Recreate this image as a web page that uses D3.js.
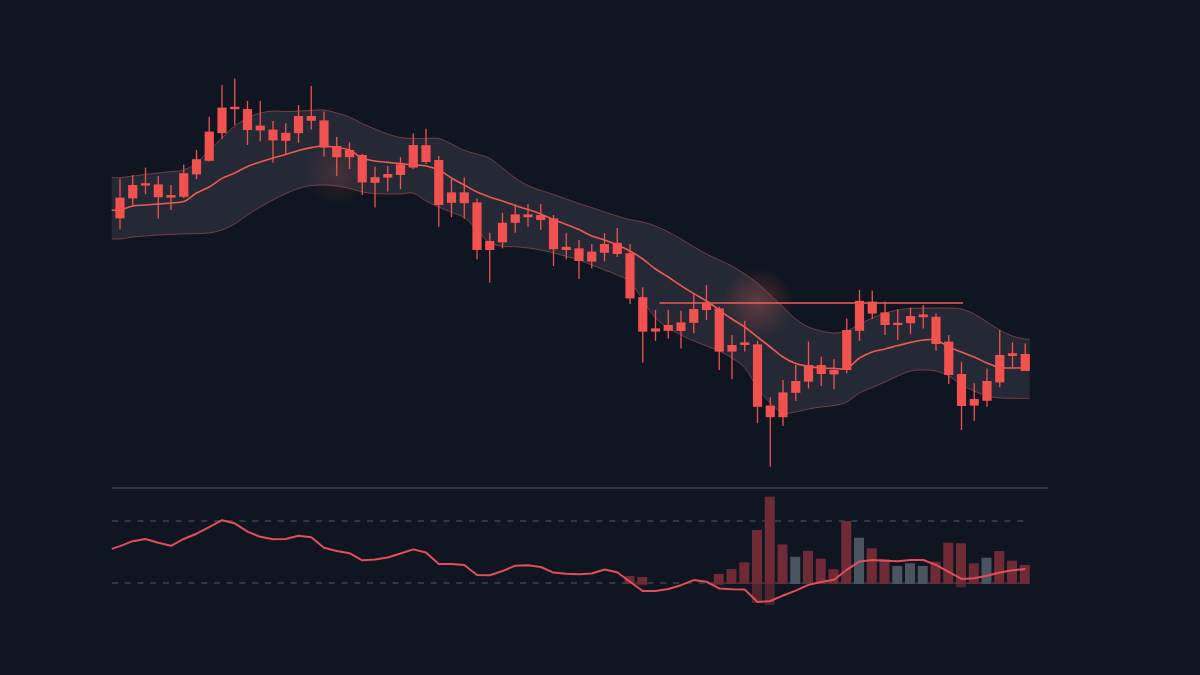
<!DOCTYPE html>
<html>
<head>
<meta charset="utf-8">
<script src="https://cdn.jsdelivr.net/npm/d3@7"></script>
<style>
  html, body { margin: 0; padding: 0; background: #0f1621; }
  svg { display: block; }
</style>
</head>
<body>
<div id="chart"></div>
<script>
// ---- Data ----
const opens = [110.6,113.75,114.2,113.9,111.25,116.7,120.2,127.1,133.1,133.3,
  132.75,128.6,127.6,126.8,131,131,129.9,123.5,122.5,121.25,
  115.7,116.5,118.9,123.75,123.7,120,111.9,111.9,109.4,99.75,
  104.3,106.4,106.4,106.25,105.4,98.3,97.9,97.1,99,99.3,
  96.7,85.7,77.9,78.75,79.4,82.75,84.3,82.9,73.75,74.4,
  73.9,58.6,61.9,64.75,68.75,68.75,67.5,77.5,84.8,84.6,
  81.9,79.3,81,81.4,80.8,74.6,66.5,60.25,64.75,71.25,
  71.7,71.5];
const closes = [105.4,110.4,113.6,110.7,110.6,110.8,116.4,119.8,126.7,132.7,
  127.5,127.4,124.9,124.8,126.7,129.8,123.1,120.7,120.7,114.4,
  114.3,115.6,116.25,118.1,119.5,108.75,109.3,109.2,97.5,97.5,
  99.4,104.3,105.7,105,97.7,97.5,94.75,94.6,96.8,96.5,
  85.4,77.1,77.1,77.3,77.25,79.3,82.5,72.1,72.1,73.75,
  58.3,55.7,55.7,61.8,64.6,66.5,66.4,67.5,77.3,81.6,
  78.75,78.75,79.2,80.7,74,66.25,58.5,58.6,59.8,64.4,
  71,67.25];
const highs = [115.4,116.25,118.1,116,113.75,118.9,122.5,130.8,138.75,140.4,
  134.75,134.75,129.75,129.2,133.75,138.5,132.1,125.75,124.4,121.5,
  118.3,118.5,120.7,126.7,127.8,121,115.4,115.6,110.4,101.8,
  106.8,108.9,109,109,106.25,101.7,100,99,101.7,103,
  99,88.2,82.5,82.5,82.3,86.7,88.75,83.3,76.25,79.8,
  74.8,60.7,65,68.75,74.6,70.8,70.2,80.4,87.5,87.4,
  84.6,82.7,83.1,83.75,81.7,76.25,69.6,64.2,67.9,77.5,
  74.4,74.1];
const lows = [102.7,108.75,111.5,105.4,107.5,110.5,115.2,119.6,125.25,128.75,
  123.75,124.6,119.3,121.25,124.3,127.6,120.9,116,117.75,111.25,
  108.1,112.1,112.7,117.75,119,103.3,105.7,105.4,95.2,89.4,
  97.9,101.8,103.3,102.5,93.5,95.2,90.25,92.9,94.6,95.75,
  84,69.3,74.75,75.4,72.9,76.7,80,67.5,65.2,72.1,
  54.2,43.3,53.5,59.75,62.9,63.5,62.7,66.7,74.8,80.25,
  76.25,75,76.4,77.9,72.3,64,52.5,54.8,58.3,63.2,
  68.2,67.25];

const bandUpper = [115.6,116,116.4,116.75,117.1,117.5,119.25,122.5,125.5,128.5,
  130.5,131.75,132.25,132.1,132.25,132.4,132.5,131.75,130.75,129.1,
  127.75,126.5,125.6,125.4,125.4,125.4,124,122.4,121.5,120.4,
  118,115.5,113.6,112.4,111.4,110.25,109.1,108.1,107,106,
  105.1,104.5,103.5,102,100.25,98.3,96.5,95,93.5,91.5,
  89.2,86.25,83.25,80.25,78.25,77.25,76.75,77.25,79,80.5,
  81.75,82.5,82.9,83,83,83,82.75,81.5,79.5,77.5,
  76,75.25];
const bandMiddle = [107.5,108.5,108.75,109,109.25,109.6,111.75,113.25,115.4,116.75,
  118.4,119.5,120.5,121.4,122.4,123.1,123.5,123.1,122.5,120.5,
  119.75,119.4,119.1,118.75,118.5,117.5,115.5,113.75,112,110.75,
  109.75,108.6,107.6,106.5,105.1,103.9,102.6,101,100,98.75,
  97.25,95.25,92.75,90.75,88.6,86.6,84.75,82.5,80.25,78.25,
  75.75,73.25,70.75,69.1,68.4,68,67.9,67.9,70.5,72,
  72.75,73.6,74.4,75,75,73.25,72,70.75,69.25,68.1,
  68,68];
const bandLower = [100.25,100.75,101,101.25,101.4,101.5,101.6,101.75,102.5,104,
  106.25,108.25,110,111.6,112.9,113.6,113.75,113.5,112.9,112,
  111.6,111.5,111.5,111.7,109.75,108.25,106.9,105.6,102.5,99.25,
  98.45,98.3,98,97.5,96.75,95.9,95,93.75,92.5,91.25,
  89.5,85,80.5,78,76.25,74.75,73.5,72.25,70.5,68,
  63,59.25,56.75,57,57.75,58.25,58.6,59.5,61.75,63.1,
  64.5,66,67.25,67.5,67.25,66,63.75,62.25,61,60.5,
  60.4,60.4];

const resistance = 84.25;
const resistanceFrom = 42, resistanceTo = 66;

const rsi = [53.8,57,58.4,56,54,58.4,61.8,66.1,70.5,68.5,
  63.1,59.8,58.2,58.4,60.5,59.5,52.7,50.7,49.2,44.6,
  45.2,46.5,49,51.7,49.7,42.3,42.2,41.6,35.2,35,
  37.7,41.2,41.4,40.3,36.7,35.9,35.6,36.1,38.7,36.9,
  30.8,24.8,24.8,26.1,28.6,31.9,30.8,26.5,26,25.8,
  17.7,18.4,21.9,25.1,28.8,30.6,32.1,38.5,43.9,44.8,
  44.3,44,44.8,44.8,41.7,37.2,32.6,33.1,34.7,36.8,
  38.2,39];
const rsiLevels = [70, 30];

const volume = [0,0,0,0,0,0,0,0,0,0,
  0,0,0,0,0,0,0,0,0,0,
  0,0,0,0,0,0,0,0,0,0,
  0,0,0,0,0,0,0,0,0,0,
  9,8,0,0,0,0,0,11.4,17,24.7,
  61.4,99.2,45,31,37.8,28.8,16.7,71.6,52.6,40.6,
  28.4,20.5,23.5,20.5,25.3,46.9,46.3,23.5,29.9,37.5,
  26.5,21.6];
// part of a bar that dips under the baseline
const volumeDip = [0,0,0,0,0,0,0,0,0,0,
  0,0,0,0,0,0,0,0,0,0,
  0,0,0,0,0,0,0,0,0,0,
  0,0,0,0,0,0,0,0,0,0,
  0,1.5,0,0,0,0,0,1.2,0,0,
  21.5,23.8,0,0,0,0,0,0,0,0,
  0,0,0,0,0,0,3.8,0,0,0,
  0,0];
// "d" = red bar, "u" = grey bar
const volumeSide = "ddddddddddddddddddddddddddddddddddddddddddddddddddddduddddudduuudddduddd".split("");

// ---- Layout ----
const W = 1200, H = 675;
const n = opens.length;

const svg = d3.select("#chart").append("svg")
  .attr("width", W).attr("height", H);

svg.append("rect").attr("width", W).attr("height", H).attr("fill", "#0f1621");

const defs = svg.append("defs");
const glow = defs.append("radialGradient").attr("id", "glow");
glow.append("stop").attr("offset", "0%").attr("stop-color", "#f2564d").attr("stop-opacity", 0.3);
glow.append("stop").attr("offset", "100%").attr("stop-color", "#f2564d").attr("stop-opacity", 0);

const x = d3.scaleLinear().domain([0, n - 1]).range([120, 1025.25]);
const y = d3.scaleLinear().domain([40, 145]).range([480, 60]);
const step = x(1) - x(0);
const bodyW = step * 0.72;

// band points padded a bit beyond the first/last candle
const bandPts = d3.range(n).map(i => ({ i, u: bandUpper[i], m: bandMiddle[i], l: bandLower[i] }));
bandPts.unshift({ ...bandPts[0], i: -0.65 });
bandPts.push({ ...bandPts[bandPts.length - 1], i: n - 1 + 0.35 });

const curve = d3.curveCatmullRom.alpha(0.5);

// glows
svg.append("circle").attr("cx", x(50)).attr("cy", y(resistance)).attr("r", 36).attr("fill", "url(#glow)");
svg.append("circle").attr("cx", x(17)).attr("cy", y(117)).attr("r", 34).attr("fill", "url(#glow)").attr("opacity", 0.5);

// band fill
svg.append("path")
  .datum(bandPts)
  .attr("d", d3.area().x(d => x(d.i)).y0(d => y(d.l)).y1(d => y(d.u)).curve(curve))
  .attr("fill", "#c8b8c8")
  .attr("fill-opacity", 0.12);

// band edges
["u", "l"].forEach(k => {
  svg.append("path")
    .datum(bandPts)
    .attr("d", d3.line().x(d => x(d.i)).y(d => y(d[k])).curve(curve))
    .attr("fill", "none")
    .attr("stroke", "#e0625e")
    .attr("stroke-opacity", 0.45)
    .attr("stroke-width", 1);
});

// middle line
svg.append("path")
  .datum(bandPts)
  .attr("d", d3.line().x(d => x(d.i)).y(d => y(d.m)).curve(curve))
  .attr("fill", "none")
  .attr("stroke", "#ec5b52")
  .attr("stroke-width", 1.6);

// resistance line
svg.append("line")
  .attr("x1", x(resistanceFrom) + 4).attr("x2", x(resistanceTo) + 1.5)
  .attr("y1", y(resistance)).attr("y2", y(resistance))
  .attr("stroke", "#ef5d55")
  .attr("stroke-width", 1.6);

// candles
const candles = svg.append("g").selectAll("g")
  .data(d3.range(n))
  .join("g");

candles.append("line")
  .attr("x1", i => x(i)).attr("x2", i => x(i))
  .attr("y1", i => y(highs[i])).attr("y2", i => y(lows[i]))
  .attr("stroke", "#f0534f")
  .attr("stroke-width", 1.3);

candles.append("rect")
  .attr("x", i => x(i) - bodyW / 2)
  .attr("width", bodyW)
  .attr("y", i => y(Math.max(opens[i], closes[i])))
  .attr("height", i => Math.max(2, Math.abs(y(opens[i]) - y(closes[i]))))
  .attr("fill", "#f2524f");

// ---- Lower panel ----
svg.append("line")
  .attr("x1", 112).attr("x2", 1048)
  .attr("y1", 488).attr("y2", 488)
  .attr("stroke", "#3a4554")
  .attr("stroke-width", 1.5);

const yr = d3.scaleLinear().domain([30, 70]).range([583, 521]);
const yv = d3.scaleLinear().domain([0, 100]).range([584, 496]);

svg.append("g").selectAll("line")
  .data(rsiLevels)
  .join("line")
  .attr("x1", 112).attr("x2", 1028)
  .attr("y1", d => yr(d)).attr("y2", d => yr(d))
  .attr("stroke", "#4e5866")
  .attr("stroke-width", 1)
  .attr("stroke-dasharray", "6,6.75");

// volume bars
const barIdx = d3.range(n).filter(i => volume[i] > 0);
svg.append("g").selectAll("rect")
  .data(barIdx)
  .join("rect")
  .attr("x", i => x(i) - 5.5)
  .attr("width", 10)
  .attr("y", i => yv(volume[i]))
  .attr("height", i => yv(0) - yv(volume[i]))
  .attr("fill", i => volumeSide[i] === "u" ? "#4a5360" : "#6e2b36");

svg.append("g").selectAll("rect")
  .data(barIdx.filter(i => volumeDip[i] > 0))
  .join("rect")
  .attr("x", i => x(i) - 5.5)
  .attr("width", 10)
  .attr("y", yv(0))
  .attr("height", i => yv(-volumeDip[i]) - yv(0))
  .attr("fill", "#4f2430");

// rsi line
const rsiPts = d3.range(n).map(i => ({ i, v: rsi[i] }));
rsiPts.unshift({ i: -0.65, v: rsi[0] - 1.8 });
svg.append("path")
  .datum(rsiPts)
  .attr("d", d3.line().x(d => x(d.i)).y(d => yr(d.v)))
  .attr("fill", "none")
  .attr("stroke", "#e24f58")
  .attr("stroke-width", 2)
  .attr("stroke-linejoin", "round");
</script>
</body>
</html>
